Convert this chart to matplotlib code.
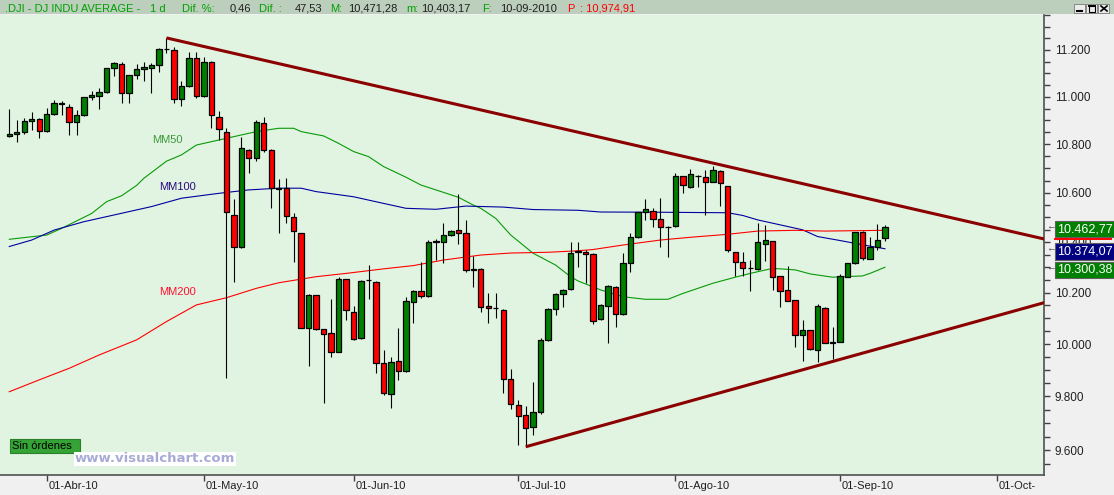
import matplotlib
matplotlib.use("Agg")
import matplotlib.pyplot as plt
import matplotlib.ticker as mticker
import matplotlib.transforms as mtrans
from matplotlib.patches import Rectangle
from matplotlib.lines import Line2D
import numpy as np
import pandas as pd

plt.rcParams['font.family'] = ['Liberation Sans', 'DejaVu Sans']

W, H = 1114, 495

# .DJI daily candles, 25-Mar-2010 .. 10-Sep-2010
opens = [10836, 10841, 10851, 10896, 10907, 10857, 10927, 10973, 10955, 10894,
         10922, 10997, 11005, 11019, 11123, 11138, 11015, 11092, 11117, 11124,
         11134, 11205, 11200, 10990, 11045, 11167, 11004, 11150, 10914, 10853,
         10510, 10380, 10777, 10742, 10888, 10777, 10617, 10619, 10500, 10436,
         10062, 10190, 10057, 10042, 9970, 10253, 10126, 10022, 10248, 10243,
         9926, 9810, 9936, 9896, 10162, 10205, 10186, 10402, 10402, 10429,
         10450, 10436, 10290, 10292, 10147, 10139, 10132, 9865, 9768, 9730,
         9684, 9740, 10015, 10135, 10194, 10213, 10360, 10360, 10352, 10096,
         10148, 10222, 10115, 10316, 10420, 10522, 10527, 10492, 10460, 10465,
         10667, 10624, 10671, 10665, 10646, 10691, 10627, 10362, 10323, 10296,
         10292, 10392, 10405, 10266, 10211, 10170, 10034, 10053, 9977, 10139,
         10005, 10009, 10263, 10316, 10440, 10333, 10383, 10415.24]
highs = [10948, 10902, 10909, 10936, 10909, 10951, 10985, 10983, 10970, 10944,
         10999, 11024, 11038, 11124, 11147, 11147, 11093, 11140, 11147, 11143,
         11207, 11252, 11212, 11068, 11190, 11190, 11171, 11152, 10940, 10870,
         10574, 10832, 10780, 10902, 10914, 10780, 10656, 10660, 10519, 10437,
         10196, 10192, 10058, 10175, 10261, 10254, 10149, 10250, 10308, 10245,
         9977, 9952, 10063, 10184, 10212, 10323, 10410, 10412, 10479, 10448,
         10594, 10490, 10345, 10296, 10197, 10197, 10136, 9903, 9787, 9766,
         9854, 10022, 10139, 10200, 10215, 10402, 10402, 10369, 10356, 10155,
         10232, 10226, 10356, 10436, 10524, 10574, 10537, 10578, 10465, 10683,
         10669, 10697, 10673, 10694, 10710, 10694, 10628, 10363, 10362, 10329,
         10479, 10470, 10406, 10267, 10306, 10171, 10093, 10054, 10155, 10145,
         10067, 10274, 10317, 10441, 10444, 10420, 10474, 10471.28]
lows = [10829, 10811, 10842, 10860, 10828, 10850, 10922, 10923, 10839, 10840,
        10920, 10986, 10947, 11015, 11090, 10972, 10975, 11075, 11068, 11015,
        11104, 11186, 10972, 10962, 11040, 10996, 11000, 10867, 10818, 9870,
        10241, 10378, 10683, 10732, 10770, 10537, 10436, 10479, 10323, 10061,
        9917, 10054, 9774, 9951, 9968, 10093, 10016, 10020, 10174, 9888,
        9806, 9756, 9863, 9894, 10080, 10180, 10184, 10329, 10316, 10427,
        10392, 10283, 10223, 10126, 10080, 10100, 9812, 9752, 9618, 9612,
        9656, 9733, 10012, 10113, 10145, 10211, 10300, 10240, 10077, 10094,
        10005, 10067, 10113, 10283, 10418, 10490, 10460, 10383, 10343, 10463,
        10598, 10620, 10624, 10510, 10644, 10547, 10362, 10267, 10267, 10205,
        10290, 10325, 10211, 10145, 10168, 9990, 9936, 9978, 9932, 10003,
        9941, 10007, 10261, 10314, 10330, 10332, 10369, 10403.17]
closes = [10841, 10850, 10896, 10907, 10857, 10927, 10974, 10970, 10894, 10922,
          10997, 11006, 11019, 11123, 11145, 11015, 11092, 11117, 11125, 11134,
          11204, 11205, 10990, 11045, 11167, 11004, 11150, 10922, 10866, 10520,
          10380, 10785, 10742, 10892, 10777, 10620, 10620, 10506, 10444, 10064,
          10190, 10060, 10040, 9970, 10255, 10134, 10020, 10245, 10250, 9928,
          9812, 9932, 9896, 10166, 10207, 10186, 10400, 10405, 10429, 10445,
          10438, 10290, 10293, 10145, 10140, 10140, 9866, 9770, 9728, 9682,
          9740, 10015, 10135, 10194, 10211, 10356, 10364, 10352, 10091, 10152,
          10225, 10115, 10316, 10420, 10521, 10533, 10492, 10460, 10460, 10667,
          10633, 10678, 10670, 10645, 10694, 10640, 10369, 10323, 10296, 10296,
          10401, 10409, 10263, 10207, 10168, 10034, 10054, 9980, 10148, 10003,
          10008, 10266, 10316, 10440, 10336, 10380, 10409, 10462.77]

# moving averages (candle index, value)
mm50_idx = [0, 5, 7, 11, 13, 15, 17, 18, 21, 23, 25, 28, 30, 33, 36, 38, 39, 42,
            44, 46, 48, 50, 53, 55, 57, 60, 62, 63, 65, 67, 70, 73, 75, 76, 79,
            82, 85, 88, 90, 94, 97, 99, 102, 105, 107, 110, 114, 115, 117]
mm50_val = [10412, 10429, 10456, 10516, 10564, 10588, 10630, 10660, 10730, 10756,
            10797, 10818, 10832, 10853, 10867, 10867, 10853, 10835, 10804, 10770,
            10749, 10708, 10664, 10632, 10612, 10582, 10550, 10537, 10496, 10429,
            10356, 10309, 10263, 10246, 10211, 10184, 10174, 10174, 10197, 10237,
            10261, 10276, 10296, 10290, 10274, 10261, 10266, 10276, 10300.38]
mm100_idx = [0, 3, 6, 10, 14, 19, 23, 28, 32, 36, 39, 41, 46, 50, 53, 57, 61, 66,
             70, 76, 79, 87, 96, 98, 100, 103, 106, 108, 111, 114, 117]
mm100_val = [10383, 10409, 10449, 10483, 10510, 10544, 10578, 10598, 10612, 10619,
             10619, 10605, 10584, 10557, 10537, 10533, 10546, 10542, 10532, 10529,
             10522, 10521, 10519, 10508, 10490, 10470, 10450, 10423, 10407, 10390,
             10374.07]
mm200_idx = [0, 4, 8, 12, 17, 21, 25, 29, 33, 36, 41, 45, 50, 54, 58, 63, 67, 72,
             76, 78, 82, 87, 91, 96, 100, 105, 109, 117]
mm200_val = [9818, 9863, 9907, 9958, 10016, 10087, 10152, 10180, 10217, 10239,
             10263, 10276, 10294, 10307, 10329, 10349, 10357, 10360, 10366, 10371,
             10389, 10409, 10420, 10432, 10445, 10448, 10445, 10448]

# trend lines (candle index, price)
res_x, res_y = [21, 138.3], [11252, 10413]
sup_x, sup_y = [69, 138.3], [9612, 10161]

holidays = ['2010-04-02', '2010-05-31', '2010-07-05', '2010-09-06']
month_starts = ['2010-04-01', '2010-05-01', '2010-06-01', '2010-07-01',
                '2010-08-01', '2010-09-01', '2010-10-01']
month_labels = ['01-Abr-10', '01-May-10', '01-Jun-10', '01-Jul-10',
                '01-Ago-10', '01-Sep-10', '01-Oct-']

days = pd.bdate_range('2010-03-25', '2010-10-08', freq='C', holidays=holidays)
tick_pos = [int(days.searchsorted(pd.Timestamp(m))) for m in month_starts]


def fx(px):
    return px / W


def fy(py):
    return 1 - py / H


fig = plt.figure(figsize=(W / 100, H / 100), dpi=100, facecolor='#f0f0f0')
ax = fig.add_axes([0, fy(475), fx(1044), (475 - 14.5) / H])
ax.set_facecolor('#e1f4e1')
ax.set_yscale('log')
ax.set_ylim(9508, 11354)
ax.set_xlim(-1.24, 138.25)

o = np.array(opens, float)
c = np.array(closes, float)
x = np.arange(len(o))
cols = np.where(c >= o, '#008000', '#ff0000')

ax.plot(mm50_idx, mm50_val, color='#079a07', lw=0.8, zorder=2)
ax.plot(mm100_idx, mm100_val, color='#0000a0', lw=0.8, zorder=2)
ax.plot(mm200_idx, mm200_val, color='#ff0000', lw=0.8, zorder=2)

ax.vlines(x, lows, highs, color='black', lw=0.8, zorder=3)
ax.bar(x, c - o, bottom=o, width=0.72, color=cols, edgecolor='black',
       linewidth=0.9, zorder=4)

ax.plot(res_x, res_y, color='#8b0000', lw=2.2, solid_capstyle='butt', zorder=5)
ax.plot(sup_x, sup_y, color='#8b0000', lw=2.2, solid_capstyle='butt', zorder=5)

# right price axis
ax.yaxis.tick_right()
ax.yaxis.set_major_locator(mticker.FixedLocator(np.arange(9600, 11201, 200)))
ax.yaxis.set_minor_locator(mticker.FixedLocator(np.arange(9550, 11351, 50)))
ax.yaxis.set_major_formatter(mticker.FuncFormatter(lambda v, p: f"{v:,.0f}".replace(",", ".")))
ax.yaxis.set_minor_formatter(mticker.NullFormatter())
ax.tick_params(axis='y', which='both', length=4.3, width=1, color='#404040',
               labelsize=8.5, pad=3.6, labelcolor='#202020')

ax.set_xticks(tick_pos)
ax.set_xticklabels([])
ax.tick_params(axis='x', length=4.3, width=1, color='#404040')
for p, lab in zip(tick_pos, month_labels):
    ax.text(p + 0.25, -0.012, lab, transform=ax.get_xaxis_transform(),
            ha='left', va='top', fontsize=8, color='#202020')

for s in ('left', 'top'):
    ax.spines[s].set_visible(False)
for s in ('right', 'bottom'):
    ax.spines[s].set_color('#505050')
    ax.spines[s].set_linewidth(1.2)

# last-value boxes on the price axis
blend = mtrans.blended_transform_factory(ax.transAxes, ax.transData)
box_tr = mtrans.offset_copy(blend, fig=fig, y=-2.5, units='dots')
fig.add_artist(Line2D([fx(1055), fx(1111)], [fy(238.5), fy(238.5)],
                      transform=fig.transFigure, color='#ff0000', lw=1.4))
boxes = [(closes[-1], '#008000'), (mm100_val[-1], '#000080'), (mm50_val[-1], '#008000')]
for v, fc in boxes:
    txt = f"{v:,.2f}".replace(",", "X").replace(".", ",").replace("X", ".")
    ax.text(1.0125, v, txt, transform=box_tr, ha='left', va='center', fontsize=9,
            color='white', clip_on=False, zorder=10,
            bbox=dict(boxstyle='square,pad=0.18', fc=fc, ec='#606060', lw=0.8))
    ax.text(1.0015, v, '\u2190', transform=blend, ha='left', va='center',
            fontsize=7, color='#404040', clip_on=False, zorder=10)

# title bar
fig.add_artist(Rectangle((0, fy(14)), 1, 14 / H, transform=fig.transFigure,
                         fc='#bccfbc', ec='none'))
title_parts = [(5, '.DJI - DJ INDU AVERAGE -', '#00a000'), (150, '1 d', '#00a000'),
               (182, 'Dif. %:', '#00a000'), (230, '0,46', '#202020'),
               (259, 'Dif. :', '#00a000'), (295, '47,53', '#202020'),
               (330, 'M:', '#00a000'), (348, '10,471,28', '#202020'),
               (406, 'm:', '#00a000'), (421, '10,403,17', '#202020'),
               (482, 'F:', '#00a000'), (500, '10-09-2010', '#202020'),
               (567, 'P', '#ff0000'), (580, ': 10,974,91', '#ff0000')]
for px, s, col in title_parts:
    fig.text(fx(px), fy(8.5), s, color=col, fontsize=8, va='center', ha='left')

# window buttons
for bx in (1074, 1086, 1098):
    fig.add_artist(Rectangle((fx(bx), fy(13)), 11 / W, 9 / H, transform=fig.transFigure,
                             fc='#ececec', ec='#7a7a7a', lw=0.6))
fig.add_artist(Line2D([fx(1077), fx(1082)], [fy(11), fy(11)], transform=fig.transFigure,
                      color='black', lw=1.5))
fig.add_artist(Rectangle((fx(1089), fy(11.5)), 6 / W, 6 / H, transform=fig.transFigure,
                         fill=False, ec='black', lw=0.8))
fig.add_artist(Line2D([fx(1089), fx(1095)], [fy(6), fy(6)], transform=fig.transFigure,
                      color='black', lw=1.4))
fig.add_artist(Line2D([fx(1101), fx(1107)], [fy(6), fy(11)], transform=fig.transFigure,
                      color='black', lw=1.2))
fig.add_artist(Line2D([fx(1101), fx(1107)], [fy(11), fy(6)], transform=fig.transFigure,
                      color='black', lw=1.2))

# moving average captions
fig.text(fx(152), fy(140), 'MM50', color='#3a9a3a', fontsize=8, va='center')
fig.text(fx(159), fy(187.5), 'MM100', color='#2a0a80', fontsize=8, va='center')
fig.text(fx(159), fy(292), 'MM200', color='#ff1030', fontsize=8, va='center')

# order box and watermark
fig.add_artist(Rectangle((fx(9.5), fy(452.7)), 70.5 / W, 13.7 / H, transform=fig.transFigure,
                         fc='#35a335', ec='#2a7f2a', lw=0.8))
fig.text(fx(12.5), fy(446), 'Sin \u00f3rdenes', color='black', fontsize=8, va='center')
fig.text(fx(75), fy(459), 'www.visualchart.com', color='#a8abd5', fontsize=9.5,
         fontweight='bold', family='DejaVu Sans', va='center',
         bbox=dict(boxstyle='square,pad=0.05', fc='white', ec='none'))

fig.savefig('out.png', dpi=100, facecolor=fig.get_facecolor())
